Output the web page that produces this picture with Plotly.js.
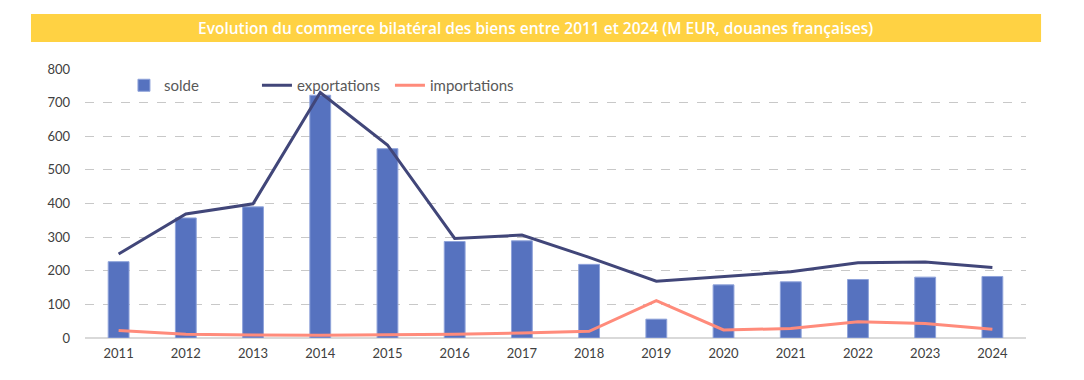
<!DOCTYPE html>
<html>
<head>
<meta charset="utf-8">
<script src="https://cdn.plot.ly/plotly-3.0.1.min.js"></script>
<style>html,body{margin:0;padding:0;background:#fff;}#chart{width:1084px;height:380px;}</style>
</head>
<body>
<div id="chart"></div>
<script>
const years = ["2011","2012","2013","2014","2015","2016","2017","2018","2019","2020","2021","2022","2023","2024"];
const solde = [227, 357, 390, 722, 563, 287, 289, 219, 56, 158, 167, 174, 181, 183];
const exportations = [250, 369, 399, 730, 574, 296, 306, 240, 169, 184, 197, 224, 226, 210];
const importations = [22, 11, 9, 8, 10, 11, 15, 20, 111, 24, 28, 48, 43, 26];
const titleText = "Evolution du commerce bilatéral des biens entre 2011 et 2024 (M EUR, douanes françaises)";

const FONT = "Lato, 'Open Sans', sans-serif";

const traces = [
  {type:"bar", name:"solde", x:years, y:solde, width:0.31,
   marker:{color:"#5672BF", line:{color:"#8FA3DA", width:1}}, hoverinfo:"skip"},
  {type:"scatter", mode:"lines", name:"exportations", x:years, y:exportations,
   line:{color:"#414679", width:3}, hoverinfo:"skip"},
  {type:"scatter", mode:"lines", name:"importations", x:years, y:importations,
   line:{color:"#FF8B7B", width:3}, hoverinfo:"skip"}
];

const layout = {
  width:1084, height:380,
  margin:{l:85, r:58, t:69, b:42},
  paper_bgcolor:"#fff", plot_bgcolor:"#fff",
  font:{family:FONT, size:13, color:"#404040"},
  showlegend:true,
  legend:{orientation:"h", x:0.0414, y:1.0, yanchor:"top", xanchor:"left",
    font:{family:FONT, size:15, color:"#595959"}, bgcolor:"rgba(0,0,0,0)",
    entrywidth:88, entrywidthmode:"pixels", traceorder:"normal"},
  xaxis:{type:"category", showgrid:false, zeroline:false, showline:false,
    ticks:"", tickfont:{family:FONT, size:13, color:"#404040"}, ticklabelstandoff:6},
  yaxis:{range:[0,800], dtick:100, showgrid:true, gridcolor:"#C8C8C8", griddash:"dash",
    gridwidth:1, zeroline:true, zerolinecolor:"#D9D9D9", zerolinewidth:2,
    ticks:"", tickfont:{family:FONT, size:13, color:"#404040"}, ticklabelstandoff:14},
  bargap:0.69,
  shapes:[{type:"rect", xref:"paper", yref:"paper", x0:-0.0574, x1:1.016, y0:1.100, y1:1.2045,
    fillcolor:"#FFD243", line:{width:0}, layer:"above"}],
  annotations:[{xref:"paper", yref:"paper", x:0.479, y:1.152, xanchor:"center", yanchor:"middle",
    text:titleText, showarrow:false,
    font:{family:"'Open Sans', sans-serif", size:15.5, weight:600, color:"#ffffff"}}]
};

Plotly.newPlot("chart", traces, layout, {displayModeBar:false, staticPlot:true});
</script>
</body>
</html>
